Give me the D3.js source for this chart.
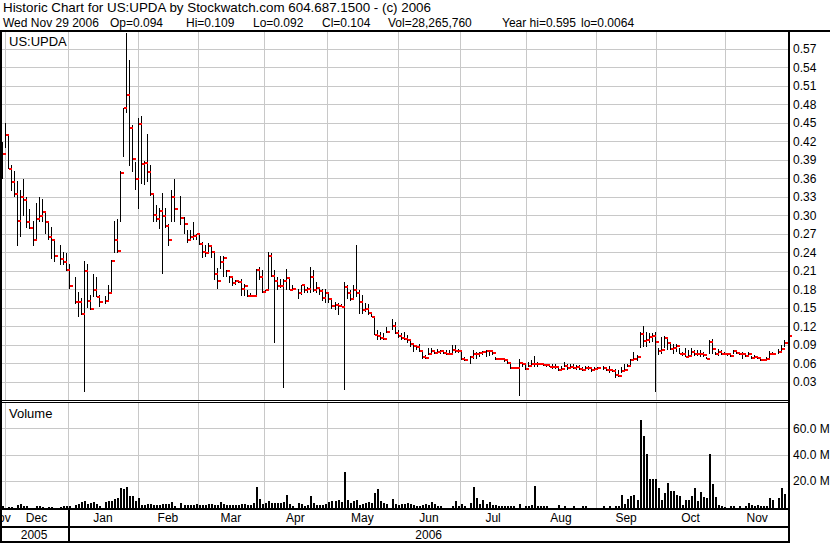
<!DOCTYPE html>
<html><head><meta charset="utf-8">
<script src="https://cdn.jsdelivr.net/npm/d3@7"></script>
<style>body{margin:0;background:#fff}svg{display:block}text{font-family:"Liberation Sans",Arial,sans-serif;fill:#000}</style>
</head><body><svg id="c" width="830" height="543"></svg>
<script>
// slot 0 = Nov 30 2005 ... slot 260 = Nov 29 2006 (weekdays; null = holiday)
const hi = [
.4185,.450,.430,.381,.371,.355,.340,.359,.330,.310,.290,.320,.330,.326,.305,.290,.281,.259,null,.251,
.240,.239,.220,null,.200,.175,.165,.225,.220,.170,.205,.200,.170,null,.169,.186,.227,.290,.294,.371,
.474,.595,.551,.446,.386,.458,.460,.388,.431,.381,.335,.316,.312,.335,.311,.286,.340,.359,null,.331,
.297,.275,.275,.289,.270,.270,.256,.251,.255,.251,.241,.214,.234,.234,.211,.201,.198,.195,.191,.197,
.188,.179,.173,.169,.212,.215,.211,.179,.240,.238,.211,.199,.197,.197,.212,.199,.186,null,.180,.187,
.187,.184,.215,.211,.191,.184,.180,.180,.173,.166,.159,.157,.155,.192,.187,.178,.186,.251,.178,.170,
.157,.155,.143,.135,.114,.111,.108,.119,null,.131,.127,.113,.109,.111,.106,.098,.092,.087,.091,.079,
.073,.084,.084,.081,.082,.081,.079,.081,.081,.089,.089,.082,.081,.069,null,.071,.081,.078,.078,.080,
.081,.081,.080,.070,.068,.068,.068,.065,.062,.054,.054,.067,.062,.056,.062,.065,.071,.062,.060,.059,
.059,.058,.058,.058,.054,.055,.062,.059,.059,.058,.056,.056,.054,.055,.055,.052,.054,.054,null,.055,
.051,.055,.051,.051,.048,.054,.058,.059,.067,.078,.073,.111,.120,.111,.109,.108,.111,.084,.102,.104,
.101,.094,.091,.091,.084,.078,.084,.081,.084,.081,.081,.081,.078,.069,.097,.099,.078,.082,.081,.078,
.076,.075,.081,.079,.078,.078,.074,.078,.071,.073,.071,.067,.067,.070,.080,.078,null,.082,.089,.098,
.109];
const lo = [
.359,.409,.374,.339,.329,.250,.265,.298,.279,.278,.250,.259,.289,.289,.270,.259,.229,.224,null,.219,
.219,.209,.180,null,.155,.135,.138,.013,.149,.146,.167,.167,.151,null,.155,.159,.173,.239,.239,.289,
.394,.465,.379,.370,.341,.309,.350,.348,.354,.331,.289,.289,.278,.205,.279,.250,.288,.289,null,.284,
.270,.254,.259,.259,.260,.251,.231,.232,.237,.230,.195,.180,.213,.200,.200,.190,.185,.187,.189,.169,
.169,.167,.167,.169,.169,.195,.173,.173,.178,.200,.093,.178,.182,.019,.178,.178,.178,null,.164,.170,
.174,.174,.174,.175,.174,.171,.161,.158,.158,.147,.146,.138,.151,.016,.164,.161,.164,.167,.140,.140,
.143,.138,.135,.105,.098,.097,.097,.108,null,.113,.107,.101,.098,.097,.092,.086,.078,.081,.078,.067,
.066,.073,.074,.074,.074,.075,.074,.073,.073,.075,.076,.076,.065,.064,null,.059,.067,.066,.070,.073,
.070,.071,.073,.065,.065,.065,.062,.058,.050,.050,.050,.0064,.054,.048,.054,.055,.054,.054,.056,.055,
.054,.053,.051,.051,.047,.048,.054,.049,.051,.051,.048,.048,.047,.048,.048,.046,.047,.050,null,.048,
.047,.044,.046,.036,.038,.044,.046,.054,.056,.064,.064,.084,.086,.086,.092,.094,.013,.073,.074,.084,
.081,.081,.075,.078,.074,.071,.069,.070,.073,.071,.071,.070,.069,.066,.075,.074,.073,.071,.073,.073,
.072,.070,.074,.074,.073,.067,.069,.071,.067,.067,.066,.064,.064,.063,.066,.073,null,.074,.076,.086,
.092];
const cl = [
.399,.430,.375,.354,.334,.290,.329,.324,.289,.279,.259,.294,.299,.305,.289,.264,.259,.234,null,.228,
.223,.211,.185,null,.159,.159,.139,.209,.161,.148,.178,.167,.159,null,.160,.173,.226,.259,.242,.368,
.474,.495,.441,.391,.359,.447,.383,.385,.369,.334,.300,.293,.307,.299,.282,.259,.330,.309,null,.295,
.285,.259,.265,.266,.270,.253,.240,.239,.250,.240,.204,.193,.224,.230,.209,.199,.189,.193,.191,.180,
.185,.169,.169,.169,.211,.199,.175,.178,.234,.201,.193,.185,.185,.193,.198,.178,.180,null,.174,.187,
.178,.180,.200,.178,.181,.177,.165,.174,.164,.152,.154,.152,.151,.184,.174,.164,.178,.174,.159,.146,
.148,.141,.135,.106,.103,.100,.099,.110,null,.120,.109,.103,.101,.099,.098,.091,.087,.086,.080,.069,
.068,.075,.080,.077,.078,.080,.077,.075,.075,.081,.080,.080,.066,.065,null,.070,.075,.075,.077,.078,
.080,.080,.077,.067,.067,.067,.065,.060,.052,.052,.052,.060,.058,.051,.055,.059,.058,.059,.058,.056,
.056,.054,.054,.054,.049,.051,.055,.052,.054,.052,.053,.051,.048,.052,.052,.049,.050,.052,null,.052,
.048,.048,.047,.040,.039,.047,.048,.055,.065,.067,.070,.107,.096,.098,.102,.104,.094,.080,.081,.100,
.093,.083,.085,.088,.075,.074,.070,.072,.078,.075,.074,.074,.073,.067,.094,.082,.074,.078,.075,.075,
.074,.072,.080,.077,.075,.074,.072,.075,.068,.070,.068,.065,.065,.066,.075,.075,null,.078,.082,.092,
.104];
// volume, millions of shares
const volM = [
0.5,0,0.3,0.3,0,1.5,2.0,1.0,0.5,0,0,0.5,0.5,0.3,0,0.3,0.3,0,null,0.3,
0.5,1.0,0.5,null,1.5,2.0,3.6,4.3,2.3,3.1,3.8,2.3,0.5,null,3.8,4.3,4.8,6.4,6.6,14.8,
14.0,15.5,8.6,8.1,4.6,7.1,1.5,1.3,2.0,2.5,1.8,1.5,1.5,2.5,2.5,2.0,3.8,1.0,null,2.8,
1.8,1.5,1.5,1.8,2.0,1.5,1.5,1.8,2.5,2.3,1.5,1.8,3.6,2.0,1.8,1.5,1.5,1.8,1.5,2.5,
2.5,1.8,1.5,2.8,15.3,5.9,2.5,3.1,4.3,3.1,3.3,3.3,3.3,3.8,9.4,2.5,1.0,null,3.1,2.5,
1.0,1.3,8.7,2.8,1.5,1.5,1.8,2.5,4.1,4.3,4.3,5.6,4.1,27.0,5.6,3.1,4.3,5.6,1.5,2.5,
2.8,3.8,3.1,10.9,14.0,4.3,3.1,2.5,null,6.1,2.3,1.5,2.5,2.3,2.8,2.3,1.5,1.0,1.0,1.5,
2.5,1.5,3.6,2.3,1.0,0.5,0,0,0,0.5,4.3,1.0,2.3,1.0,null,3.1,15.3,7.1,2.5,5.6,
2.3,4.1,1.8,1.5,0.8,0.5,0.5,0.5,1.0,0.5,0,2.3,0,0.5,1.0,1.5,16.3,0.5,0.5,0.5,
0.5,0,0,0,1.5,0,0.5,0,0,0.5,0,0,0.5,0.5,0,0,0,0,null,1.0,
0,1.0,0,0.5,1.0,9.2,2.5,6.1,8.2,8.9,5.1,66.5,54.5,40.8,21.7,21.4,21.7,14.8,5.1,10.7,
18.6,12.5,12.5,9.4,8.4,1.8,5.3,5.1,8.4,14.5,4.6,11.7,7.6,6.9,40.8,17.8,7.6,1.3,1.0,0.3,
0,0.5,0.5,0,0.5,0,0.5,3.1,1.3,1.0,1.8,1.0,1.0,1.0,6.9,5.1,null,6.6,14.8,10.2,
28.3];

const priceTicks = [0.03,0.06,0.09,0.12,0.15,0.18,0.21,0.24,0.27,0.30,0.33,0.36,0.39,0.42,0.45,0.48,0.51,0.54,0.57];
const volTicks = [20,40,60];
const monthNames = ['Nov','Dec','Jan','Feb','Mar','Apr','May','Jun','Jul','Aug','Sep','Oct','Nov'];
const monthBounds = [-2.4,0.9,21.75,44.9,64.8,86.6,107.5,131.0,151.6,173.4,196.6,216.5,239.3,260.6];
const yearNames = ['2005','2006'];
const yearBounds = [-0.7,21.75,260.6];
const headerLine1 = 'Historic Chart for US:UPDA by Stockwatch.com 604.687.1500 - (c) 2006';
const headerLine2 = ['Wed Nov 29 2006','Op=0.094','Hi=0.109','Lo=0.092','Cl=0.104','Vol=28,265,760','Year hi=0.595','lo=0.0064'];

const svg = d3.select('#c');
const R = 789, PT = 31, PB = 401, VT = 403, VB = 508;
const x = d3.scaleLinear().domain([0, 260]).range([2.3, 787.5]);
const yP = d3.scaleLinear().domain([0, 0.595]).range([400, 33.1]);
const yV = d3.scaleLinear().domain([0, 60]).range([507, 428.4]);
const g = svg.append('g').attr('shape-rendering','crispEdges');

// header
svg.append('text').attr('x',3).attr('y',12).attr('font-size',13)
  .attr('textLength',428).attr('lengthAdjust','spacingAndGlyphs').text(headerLine1);
const h2x = [3,110,186,253,322,388,502,581];
headerLine2.forEach((t,i)=>svg.append('text').attr('x',h2x[i]).attr('y',27).attr('font-size',12).text(t));

// gridlines
const grid = g.append('g').attr('stroke','#c8c8c8').attr('stroke-width',1);
priceTicks.forEach(t=>{const yy=Math.round(yP(t))+0.5;
  grid.append('line').attr('x1',2).attr('x2',R).attr('y1',yy).attr('y2',yy);});
volTicks.forEach(t=>{const yy=Math.round(yV(t))+0.5;
  grid.append('line').attr('x1',2).attr('x2',R).attr('y1',yy).attr('y2',yy);});
monthBounds.slice(1,13).forEach(b=>{const xx=Math.round(x(b))+0.5;
  grid.append('line').attr('x1',xx).attr('x2',xx).attr('y1',PT).attr('y2',PB);
  grid.append('line').attr('x1',xx).attr('x2',xx).attr('y1',VT).attr('y2',VB);});

// price bars
const bars = g.append('g');
hi.forEach((h,i)=>{
  if(h==null) return;
  const px = Math.round(x(i));
  const y1 = Math.round(yP(h)), y2 = Math.max(Math.round(yP(lo[i])), y1+1);
  bars.append('rect').attr('x',px).attr('y',y1).attr('width',1).attr('height',y2-y1).attr('fill','#000');
});
hi.forEach((h,i)=>{
  if(h==null) return;
  const px = Math.round(x(i));
  bars.append('rect').attr('x',px+1).attr('y',Math.round(yP(cl[i]))-1).attr('width',3).attr('height',2).attr('fill','#ff0000');
});

// volume bars
volM.forEach((v,i)=>{
  if(v==null || v<=0) return;
  const px = Math.round(x(i));
  const yy = Math.min(Math.round(yV(v)), VB-1);
  g.append('rect').attr('x',px).attr('y',yy).attr('width',2).attr('height',VB-yy).attr('fill','#000');
});

// frame
const fr = g.append('g').attr('fill','#000');
fr.append('rect').attr('x',0).attr('y',30).attr('width',830).attr('height',2);
fr.append('rect').attr('x',0).attr('y',30).attr('width',2).attr('height',513);
fr.append('rect').attr('x',788).attr('y',30).attr('width',2).attr('height',513);
fr.append('rect').attr('x',0).attr('y',400).attr('width',R).attr('height',1);
fr.append('rect').attr('x',0).attr('y',402).attr('width',R).attr('height',1);
fr.append('rect').attr('x',0).attr('y',508).attr('width',R).attr('height',2);
fr.append('rect').attr('x',0).attr('y',526).attr('width',R).attr('height',2);
fr.append('rect').attr('x',0).attr('y',541).attr('width',R).attr('height',2);
fr.append('rect').attr('x',Math.round(x(yearBounds[1]))).attr('y',508).attr('width',2).attr('height',35);

// labels
svg.append('text').attr('x',9).attr('y',46).attr('font-size',13).text('US:UPDA');
svg.append('text').attr('x',9).attr('y',418).attr('font-size',13).text('Volume');
priceTicks.forEach(t=>svg.append('text').attr('x',793).attr('y',yP(t)+4.5).attr('font-size',12).text(t.toFixed(2)));
volTicks.forEach(t=>svg.append('text').attr('x',793).attr('y',yV(t)+4.5).attr('font-size',12).text(t.toFixed(1)+' M'));

const clipM = svg.append('clipPath').attr('id','cm');
clipM.append('rect').attr('x',2).attr('y',508).attr('width',786).attr('height',35);
const ml = svg.append('g').attr('clip-path','url(#cm)');
monthNames.forEach((m,i)=>{
  const cx = (x(monthBounds[i])+x(monthBounds[i+1]))/2;
  ml.append('text').attr('x',cx).attr('y',522).attr('text-anchor','middle').attr('font-size',12).text(m);
});
yearNames.forEach((yn,i)=>{
  const cx = (x(yearBounds[i])+x(yearBounds[i+1]))/2;
  ml.append('text').attr('x',cx).attr('y',539).attr('text-anchor','middle').attr('font-size',12).text(yn);
});
</script></body></html>
